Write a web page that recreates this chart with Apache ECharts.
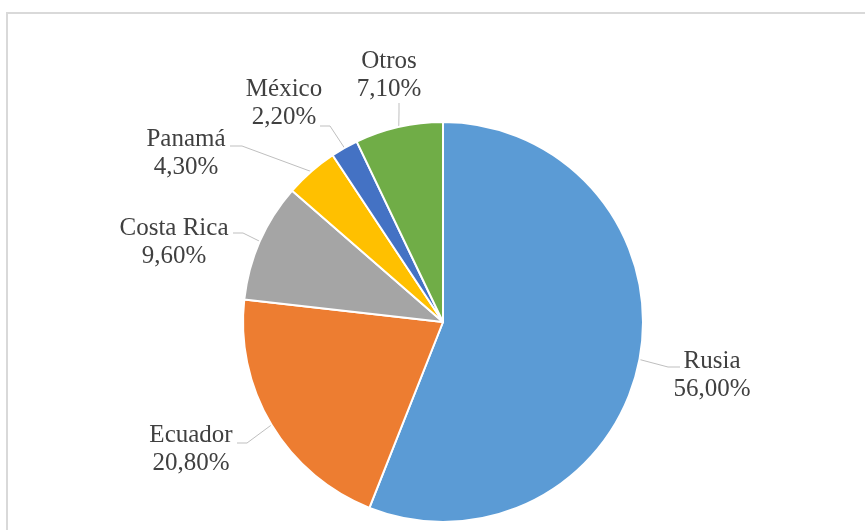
<!DOCTYPE html>
<html style="height: 100%">
  <head>
    <meta charset="UTF-8">
  </head>
  <body style="height: 100%; margin: 0">
    <div id="container" style="width: 865px; height: 530px"></div>
    <script type="text/javascript" src="https://fastly.jsdelivr.net/npm/echarts@6/dist/echarts.min.js"></script>
    <script>
    var countries = ['Rusia', 'Ecuador', 'Costa Rica', 'Panamá', 'México', 'Otros'];
    var shares = [56.0, 20.8, 9.6, 4.3, 2.2, 7.1];
    var colors = ['#5B9BD5', '#ED7D31', '#A5A5A5', '#FFC000', '#4472C4', '#70AD47'];

    // label centre and leader line (elbow, end) for each slice
    var labelCenter = [[712, 375], [191, 449], [174, 242], [186, 153], [284, 103], [389, 75]];
    var lineElbow = [[668, 367], [247, 443], [243, 233], [242, 146], [330, 126], [399, 112]];
    var lineEnd = [[680, 367], [237, 443], [233, 233], [230, 146], [320, 126], [399, 103]];

    var myChart = echarts.init(document.getElementById('container'), null, { renderer: 'canvas' });

    var option = {
      backgroundColor: '#ffffff',
      color: colors,
      graphic: [{
        type: 'rect',
        shape: { x: 7, y: 13, width: 880, height: 540 },
        style: { fill: 'none', stroke: '#d9d9d9', lineWidth: 2 }
      }],
      series: [{
        type: 'pie',
        center: [443, 322],
        radius: 200,
        startAngle: 90,
        clockwise: true,
        avoidLabelOverlap: false,
        itemStyle: { borderColor: '#ffffff', borderWidth: 2 },
        label: {
          show: true,
          position: 'outside',
          fontFamily: 'Liberation Serif',
          fontSize: 25,
          lineHeight: 28,
          color: '#404040',
          align: 'center',
          formatter: function (p) {
            return p.name + '\n' + p.value.toFixed(2).replace('.', ',') + '%';
          }
        },
        labelLine: {
          show: true,
          length: 15,
          length2: 10,
          lineStyle: { color: '#bfbfbf', width: 1 }
        },
        labelLayout: function (params) {
          var i = params.dataIndex;
          var start = params.labelLinePoints ? params.labelLinePoints[0] : lineElbow[i];
          return {
            x: labelCenter[i][0],
            y: labelCenter[i][1],
            align: 'center',
            verticalAlign: 'middle',
            labelLinePoints: [start, lineElbow[i], lineEnd[i]]
          };
        },
        data: countries.map(function (c, i) {
          return { name: c, value: shares[i] };
        })
      }]
    };

    myChart.setOption(option);
    window.addEventListener('resize', myChart.resize);
    </script>
  </body>
</html>
